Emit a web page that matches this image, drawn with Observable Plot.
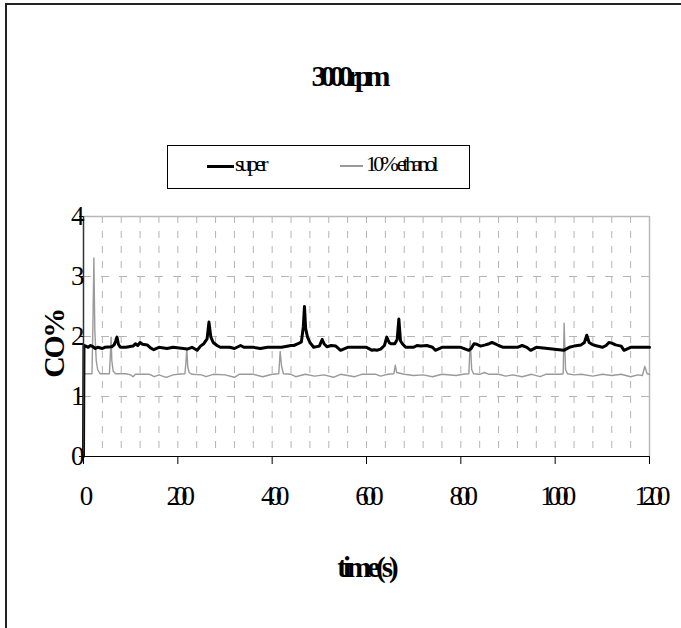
<!DOCTYPE html>
<html>
<head>
<meta charset="utf-8">
<script src="https://cdn.jsdelivr.net/npm/d3@7"></script>
<script src="https://cdn.jsdelivr.net/npm/@observablehq/plot@0.6"></script>
<style>
  html, body { margin: 0; padding: 0; background: #fff; overflow: hidden; }
  #wrap { position: relative; width: 681px; height: 628px; overflow: hidden; font-family: "Liberation Serif", "Times New Roman", serif; }
  #wrap svg text { font-size: 27px !important; letter-spacing: -6px; }
  .abs { position: absolute; white-space: nowrap; color: #000; }
</style>
</head>
<body>
<div id="wrap"></div>
<script>
// ---- data ----
const title = "3000rpm";
const xLabel = "time(s)";
const yLabel = "CO%";
const seriesNames = ["super", "10% ethanol"];
const xTicks = [0, 200, 400, 600, 800, 1000, 1200];
const yTicks = [0, 1, 2, 3, 4];

const superT = [0,1,5,10,15,20,25,30,40,45,60,65,68,71,74,78,90,105,110,115,120,125,135,142,149,160,177,190,220,230,241,248,255,262,266,270,275,283,290,310,320,333,340,360,375,390,420,440,446,455,462,466,468.5,471,475,480,488,500,506,510,516,525,535,545,560,600,612,616,622,630,638,643,648,651,660,665,668.6,672,676,683,700,707,715,728,740,746,760,800,817,822,828,834,842,852,860,866,872,880,890,920,930,940,948,960,1018,1030,1040,1055,1062,1067,1072,1078,1085,1100,1108,1114,1120,1128,1140,1146,1160,1200];
const superV = [0,1.85,1.84,1.82,1.85,1.83,1.80,1.82,1.80,1.82,1.83,1.86,1.92,1.99,1.87,1.82,1.82,1.84,1.88,1.85,1.90,1.87,1.86,1.81,1.78,1.82,1.80,1.82,1.79,1.82,1.77,1.84,1.88,1.96,2.24,1.99,1.90,1.85,1.82,1.82,1.80,1.85,1.82,1.82,1.80,1.82,1.82,1.85,1.85,1.88,1.91,2.16,2.5,2.13,1.99,1.90,1.82,1.84,1.95,1.88,1.83,1.85,1.84,1.77,1.82,1.82,1.77,1.78,1.77,1.79,1.85,1.99,1.90,1.88,1.88,1.95,2.29,1.93,1.88,1.82,1.82,1.85,1.84,1.85,1.82,1.77,1.82,1.82,1.77,1.80,1.88,1.87,1.84,1.86,1.88,1.90,1.88,1.85,1.82,1.82,1.85,1.82,1.77,1.82,1.77,1.82,1.84,1.86,1.90,2.02,1.90,1.87,1.85,1.82,1.85,1.90,1.89,1.86,1.84,1.77,1.82,1.82];

const ethT = [0,1,18,20,22,24,27,30,35,55,57,58.5,60,63,68,90,100,105,110,140,150,160,175,180,190,200,215,217,219,221,224,230,250,260,275,300,320,330,360,380,400,414,417,420,424,440,450,470,490,510,530,545,560,575,590,620,630,645,658,661,664,680,700,720,740,760,790,805,817,820,823,827,840,850,860,880,895,910,930,950,968,980,1010,1017,1019,1022,1026,1040,1055,1080,1100,1120,1140,1160,1175,1185,1190,1195,1200];
const ethV = [0,1.38,1.38,2.2,3.31,2.1,1.6,1.45,1.38,1.38,1.7,1.99,1.6,1.42,1.38,1.38,1.36,1.33,1.37,1.37,1.33,1.36,1.32,1.33,1.36,1.37,1.38,1.55,1.8,1.5,1.4,1.37,1.36,1.33,1.37,1.36,1.32,1.37,1.37,1.33,1.37,1.38,1.75,1.5,1.38,1.37,1.33,1.37,1.34,1.36,1.32,1.37,1.35,1.33,1.37,1.37,1.34,1.37,1.38,1.52,1.4,1.37,1.35,1.36,1.33,1.37,1.35,1.37,1.38,1.93,1.45,1.38,1.37,1.4,1.37,1.37,1.34,1.36,1.33,1.37,1.33,1.37,1.37,1.38,2.22,1.45,1.38,1.36,1.37,1.34,1.37,1.35,1.37,1.33,1.36,1.35,1.5,1.38,1.37];

const superData = superT.map((t, i) => ({t, v: superV[i]}));
const ethData = ethT.map((t, i) => ({t, v: ethV[i]}));
const vGrid = d3.range(40, 1200, 40);

const font = "Liberation Serif";

const chart = Plot.plot({
  width: 681,
  height: 628,
  marginLeft: 83,
  marginRight: 32,
  marginTop: 216,
  marginBottom: 172,
  style: {fontFamily: font, fontSize: "27px", color: "#000", background: "transparent", overflow: "visible"},
  x: {domain: [0, 1200]},
  y: {domain: [0, 4]},
  marks: [
    Plot.ruleX(vGrid, {stroke: "#b4b4b4", strokeWidth: 1, strokeDasharray: "7,8"}),
    Plot.ruleY([1, 2, 3], {stroke: "#b4b4b4", strokeWidth: 1, strokeDasharray: "8,10"}),
    Plot.ruleY([4], {stroke: "#b8b8b8", strokeWidth: 1.5}),
    Plot.ruleX([1200], {stroke: "#b8b8b8", strokeWidth: 1.5}),
    Plot.line(ethData, {x: "t", y: "v", stroke: "#9a9a9a", strokeWidth: 1.4}),
    Plot.line(superData, {x: "t", y: "v", stroke: "#000", strokeWidth: 3, strokeLinejoin: "round"}),
    Plot.ruleX([0], {stroke: "#333", strokeWidth: 1.5}),
    Plot.ruleY([0], {stroke: "#000", strokeWidth: 1.2}),
    Plot.axisX({ticks: xTicks, tickSize: 8, tickPadding: 21, tickFormat: d3.format("d"), label: null, fontSize: 27, stroke: "#000"}),
    Plot.axisY({ticks: yTicks, tickSize: 4, tickPadding: 1, tickFormat: d3.format("d"), label: null, fontSize: 27, stroke: "#000"})
  ]
});

const wrap = document.getElementById("wrap");
chart.style.position = "absolute";
chart.style.left = "0px";
chart.style.top = "0px";
wrap.appendChild(chart);

// frame
const frame = document.createElement("div");
frame.className = "abs";
Object.assign(frame.style, {left: "5px", top: "3px", width: "760px", height: "760px", border: "2px solid #222"});
wrap.appendChild(frame);

function addText(txt, css) {
  const d = document.createElement("div");
  d.className = "abs";
  d.textContent = txt;
  Object.assign(d.style, css);
  wrap.appendChild(d);
  return d;
}

// title
addText(title, {left: "348px", top: "60px", transform: "translateX(-50%)", fontFamily: font, fontWeight: "bold", fontSize: "30px", letterSpacing: "-6px", lineHeight: "32px"});

// legend
const box = document.createElement("div");
box.className = "abs";
Object.assign(box.style, {left: "167px", top: "145px", width: "301px", height: "42px", border: "1px solid #000"});
wrap.appendChild(box);
function legLine(x, w, color, h) {
  const l = document.createElement("div");
  l.className = "abs";
  Object.assign(l.style, {left: x + "px", top: (166 - h / 2) + "px", width: w + "px", height: h + "px", background: color});
  wrap.appendChild(l);
}
legLine(207, 27, "#000", 3);
addText(seriesNames[0], {left: "235px", top: "152px", fontFamily: font, fontSize: "22px", letterSpacing: "-3.5px", lineHeight: "24px"});
legLine(340, 23, "#9a9a9a", 1.4);
addText(seriesNames[1], {left: "366px", top: "152px", fontFamily: font, fontSize: "22px", letterSpacing: "-3.8px", lineHeight: "24px"});

// axis titles
addText(xLabel, {left: "366px", top: "551px", transform: "translateX(-50%)", fontFamily: font, fontWeight: "bold", fontSize: "29px", letterSpacing: "-4px", lineHeight: "32px"});
addText(yLabel, {left: "54px", top: "344px", transform: "translate(-50%,-50%) rotate(-90deg)", fontFamily: font, fontWeight: "bold", fontSize: "30px", letterSpacing: "-2.5px", lineHeight: "32px"});
</script>
</body>
</html>
